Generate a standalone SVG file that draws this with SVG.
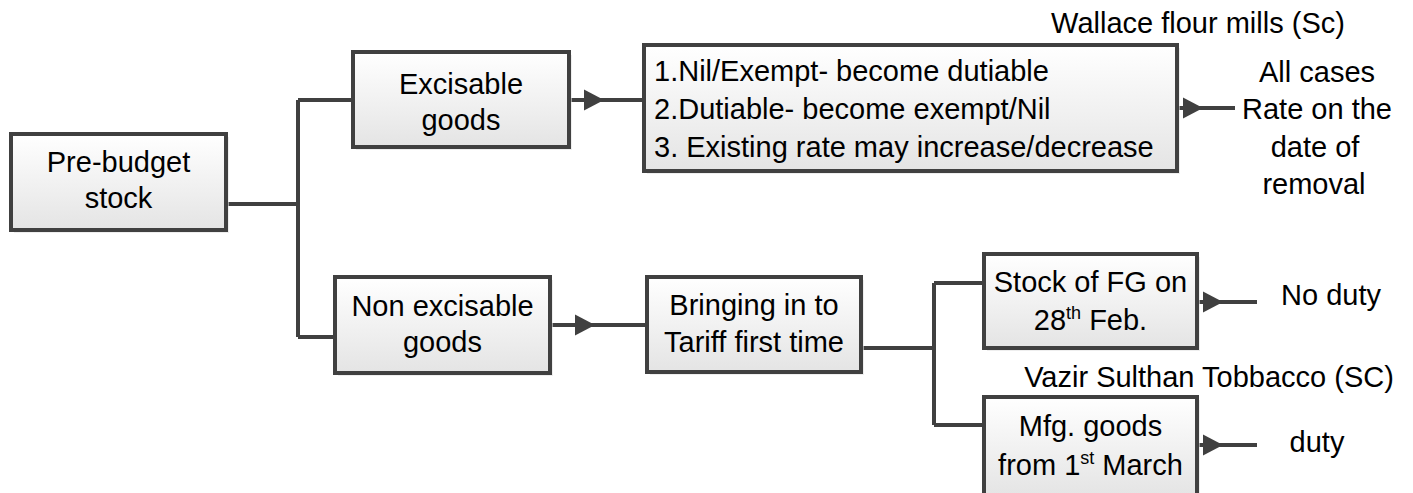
<svg xmlns="http://www.w3.org/2000/svg" width="1413" height="493" viewBox="0 0 1413 493">
<style>
.box{fill:url(#g);stroke:#404040;stroke-width:4;}
.sh{fill:#e2e2e2;opacity:0.6;}
.t{font-family:"Liberation Sans",Arial,sans-serif;font-size:29px;fill:#000;}
.c{text-anchor:middle;}
.ln{fill:none;stroke:#404040;stroke-width:4;}
.ar{fill:none;stroke:#404040;stroke-width:4;marker-mid:url(#ah);}
.sup{font-size:18px;}
</style>
<defs>
<linearGradient id="g" x1="0" y1="0" x2="0" y2="1">
<stop offset="0" stop-color="#ffffff"/>
<stop offset="1" stop-color="#e4e4e4"/>
</linearGradient>
<marker id="ah" markerUnits="userSpaceOnUse" markerWidth="21" markerHeight="22" refX="20" refY="11" orient="auto">
<path d="M0,0.5 L20,11 L0,21.5 z" fill="#404040"/>
</marker>
</defs>

<g id="connectors">
<path class="ln" d="M228,204 H298 M298,100 V337 M298,100 H353 M298,337 H335"/>
<path class="ar" d="M569,100 L604,100 L644,100"/>
<path class="ar" d="M550,325 L595,325 L647,325"/>
<path class="ln" d="M861,348 H934 M934,283 V425 M934,283 H984 M934,425 H984"/>
<path class="ar" d="M1177,108 L1203,108 L1235,108"/>
<path class="ar" d="M1197,302 L1223,302 L1257,302"/>
<path class="ar" d="M1197,445 L1223,445 L1257,445"/>
</g>

<g id="pre-budget">
<rect class="sh" x="14" y="137" width="215" height="96"/>
<rect class="box" x="11" y="134" width="215" height="96"/>
<text class="t c" x="118.5" y="172">Pre-budget</text>
<text class="t c" x="118.5" y="208">stock</text>
</g>

<g id="excisable">
<rect class="sh" x="356" y="55" width="216" height="95"/>
<rect class="box" x="353" y="52" width="216" height="95"/>
<text class="t c" x="461" y="94">Excisable</text>
<text class="t c" x="461" y="130">goods</text>
</g>

<g id="changes">
<rect class="sh" x="647" y="48" width="533" height="126"/>
<rect class="box" x="644" y="45" width="533" height="126"/>
<text class="t" x="654" y="81">1.Nil/Exempt- become dutiable</text>
<text class="t" x="654" y="119">2.Dutiable- become exempt/Nil</text>
<text class="t" x="654" y="157">3. Existing rate may increase/decrease</text>
</g>

<g id="wallace">
<text class="t c" x="1198" y="33">Wallace flour mills (Sc)</text>
</g>

<g id="all-cases">
<text class="t c" x="1317" y="82">All cases</text>
<text class="t c" x="1317" y="119">Rate on the</text>
<text class="t c" x="1315" y="157">date of</text>
<text class="t c" x="1314" y="194">removal</text>
</g>

<g id="non-excisable">
<rect class="sh" x="338" y="280" width="215" height="96"/>
<rect class="box" x="335" y="277" width="215" height="96"/>
<text class="t c" x="442.5" y="316">Non excisable</text>
<text class="t c" x="442.5" y="352">goods</text>
</g>

<g id="bringing">
<rect class="sh" x="650" y="280" width="214" height="95"/>
<rect class="box" x="647" y="277" width="214" height="95"/>
<text class="t c" x="754" y="315">Bringing in to</text>
<text class="t c" x="754" y="352">Tariff first time</text>
</g>

<g id="stock">
<rect class="sh" x="987" y="257" width="213" height="94"/>
<rect class="box" x="984" y="254" width="213" height="94"/>
<text class="t c" x="1090.5" y="292">Stock of FG on</text>
<text class="t c" x="1090.5" y="330">28<tspan class="sup" dy="-11">th</tspan><tspan dy="11"> Feb.</tspan></text>
</g>

<g id="no-duty">
<text class="t c" x="1331" y="305">No duty</text>
</g>

<g id="vazir">
<text class="t c" x="1209" y="387">Vazir Sulthan Tobbacco (SC)</text>
</g>

<g id="mfg">
<rect class="sh" x="987" y="400" width="213" height="100"/>
<rect class="box" x="984" y="397" width="213" height="100"/>
<text class="t c" x="1090.5" y="436">Mfg. goods</text>
<text class="t c" x="1090.5" y="475">from 1<tspan class="sup" dy="-11">st</tspan><tspan dy="11"> March</tspan></text>
</g>

<g id="duty">
<text class="t c" x="1317" y="452">duty</text>
</g>
</svg>
